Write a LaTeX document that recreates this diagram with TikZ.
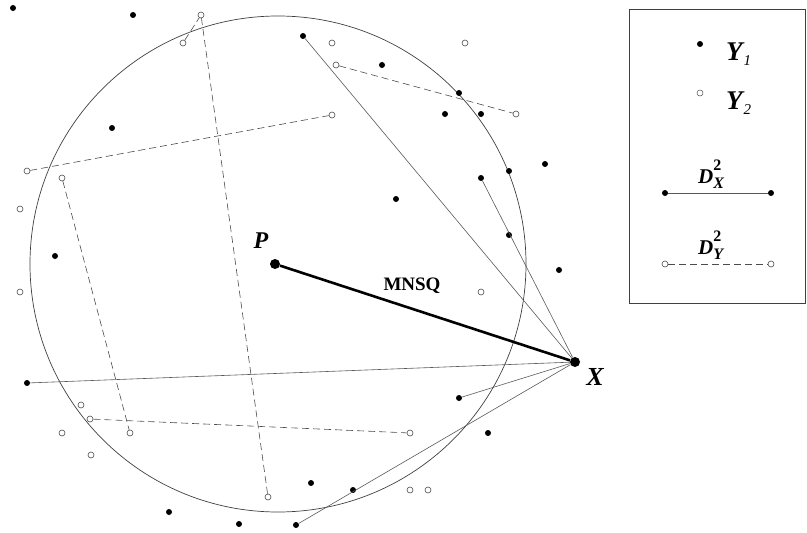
\documentclass[tikz,border=0pt]{standalone}
\usepackage{fontspec}
\setmainfont{Liberation Serif}
\begin{document}
\begin{tikzpicture}[x=1pt,y=-1pt,
  ydot/.style={circle,fill=black,inner sep=0pt,minimum size=6pt},
  odot/.style={circle,draw=black!70,fill=white,line width=0.6pt,inner sep=0pt,minimum size=6pt},
  bigdot/.style={circle,fill=black,inner sep=0pt,minimum size=10pt},
  dline/.style={draw=black!70,line width=0.6pt,dash pattern=on 7pt off 4pt},
  sline/.style={draw=black!65,line width=0.6pt},
  lbl/.style={inner sep=0pt,anchor=base}]
\useasboundingbox (0,0) rectangle (807,533);
% circle
\draw[black!75,line width=0.7pt] (278,264) circle (248);
% legend box
\draw[black!75,line width=0.7pt] (629,9) rectangle (805,303);
% filled dots
\node[ydot] (a1) at (13,8) {};
\node[ydot] (a2) at (133,15) {};
\node[ydot] (a3) at (112,128) {};
\node[ydot] (a4) at (303,36) {};
\node[ydot] (a5) at (382,65) {};
\node[ydot] (a6) at (459,93) {};
\node[ydot] (a7) at (445,114) {};
\node[ydot] (a8) at (481,114) {};
\node[ydot] (a9) at (545,164) {};
\node[ydot] (a10) at (509,171) {};
\node[ydot] (a11) at (481,178) {};
\node[ydot] (a12) at (396,199) {};
\node[ydot] (a13) at (509,235) {};
\node[ydot] (a14) at (55,256) {};
\node[ydot] (a15) at (559,270) {};
\node[ydot] (a16) at (27,383) {};
\node[ydot] (a17) at (459,398) {};
\node[ydot] (a18) at (488,433) {};
\node[ydot] (a19) at (311,483) {};
\node[ydot] (a20) at (353,490) {};
\node[ydot] (a21) at (169,512) {};
\node[ydot] (a22) at (239,524) {};
\node[ydot] (a23) at (296,525) {};
% open circles
\node[odot] (b1) at (201,15) {};
\node[odot] (b2) at (183,43) {};
\node[odot] (b3) at (332,43) {};
\node[odot] (b4) at (465,43) {};
\node[odot] (b5) at (336,65) {};
\node[odot] (b6) at (332,115) {};
\node[odot] (b7) at (516,114) {};
\node[odot] (b8) at (27,171) {};
\node[odot] (b9) at (62,178) {};
\node[odot] (b10) at (20,209) {};
\node[odot] (b11) at (20,292) {};
\node[odot] (b12) at (481,292) {};
\node[odot] (b13) at (81,405) {};
\node[odot] (b14) at (90,419) {};
\node[odot] (b15) at (62,433) {};
\node[odot] (b16) at (130,433) {};
\node[odot] (b17) at (91,455) {};
\node[odot] (b18) at (410,433) {};
\node[odot] (b19) at (268,497) {};
\node[odot] (b20) at (410,490) {};
\node[odot] (b21) at (428,490) {};
% P and X
\node[bigdot] (P) at (275,264) {};
\node[bigdot] (X) at (575,362) {};
% dashed D_Y lines
\draw[dline] (b2) -- (b1);
\draw[dline] (b1) -- (b19);
\draw[dline] (b8) -- (b6);
\draw[dline] (b5) -- (b7);
\draw[dline] (b9) -- (b16);
\draw[dline] (b14) -- (b18);
% solid D_X lines
\draw[sline] (a4) -- (X);
\draw[sline] (a11) -- (X);
\draw[sline] (a16) -- (X);
\draw[sline] (a17) -- (X);
\draw[sline] (a23) -- (X);
% MNSQ
\draw[line width=2.6pt] (P) -- (X);
\node[lbl] (mnsq) at (412,290) {\fontsize{19}{19}\selectfont\bfseries MNSQ};
\node[lbl] (pl) at (261,248) {\fontsize{24}{24}\selectfont\bfseries\itshape P};
\node[lbl] (xl) at (595,385) {\fontsize{26}{26}\selectfont\bfseries\itshape X};
% legend
\node[circle,fill=black,inner sep=0pt,minimum size=6pt] (l1) at (700,44) {};
\node[circle,draw=black!70,line width=0.5pt,inner sep=0pt,minimum size=6pt] (l2) at (700,93) {};
\node[lbl,anchor=base west] (y1) at (726,60) {\fontsize{27}{27}\selectfont\bfseries\itshape Y\kern1pt\raisebox{-5pt}{\fontsize{15}{15}\selectfont\mdseries\itshape 1}};
\node[lbl,anchor=base west] (y2) at (726,109) {\fontsize{27}{27}\selectfont\bfseries\itshape Y\kern1pt\raisebox{-5pt}{\fontsize{15}{15}\selectfont\mdseries\itshape 2}};
\node[ydot] (dx1) at (665,193) {};
\node[ydot] (dx2) at (771,193) {};
\draw[sline] (dx1) -- (dx2);
\node[odot,minimum size=6pt] (dy1) at (665,264) {};
\node[odot,minimum size=6pt] (dy2) at (771,264) {};
\draw[dline] (dy1) -- (dy2);
\node[lbl,anchor=base west] (dxl) at (698,183) {\fontsize{21}{21}\selectfont\bfseries\itshape D\rlap{\raisebox{13pt}{\fontsize{16}{16}\selectfont\upshape 2}}\raisebox{-5pt}{\fontsize{16}{16}\selectfont X}};
\node[lbl,anchor=base west] (dyl) at (698,254) {\fontsize{21}{21}\selectfont\bfseries\itshape D\rlap{\raisebox{13pt}{\fontsize{16}{16}\selectfont\upshape 2}}\raisebox{-5pt}{\fontsize{16}{16}\selectfont Y}};
\end{tikzpicture}
\end{document}
